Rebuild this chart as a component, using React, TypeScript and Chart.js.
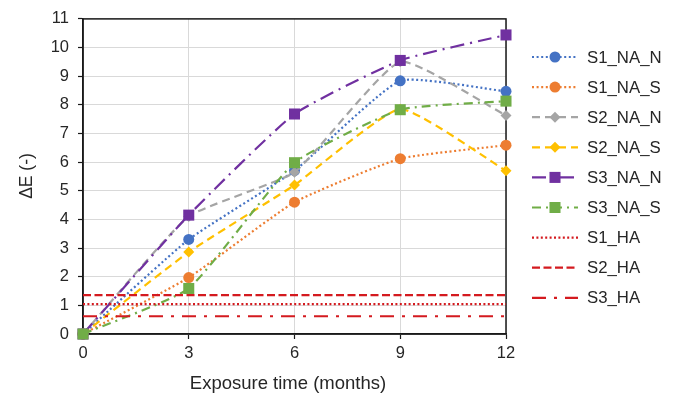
import React, { useEffect, useRef } from "react";
import { Chart, registerables } from "chart.js";

Chart.register(...registerables);

// Exposure time in months
const months = [0, 3, 6, 9, 12];

// Colour difference ΔE per sample series
const s1NaN = [0, 3.3, 5.7, 8.84, 8.47];
const s1NaS = [0, 1.97, 4.6, 6.12, 6.59];
const s2NaN = [0, 4.1, 5.65, 9.5, 7.63];
const s2NaS = [0, 2.86, 5.2, 7.85, 5.7];
const s3NaN = [0, 4.15, 7.68, 9.55, 10.44];
const s3NaS = [0, 1.59, 5.98, 7.83, 8.13];

// Reference levels (HA)
const s1Ha = 1.04;
const s2Ha = 1.36;
const s3Ha = 0.62;

const xTicks = [0, 3, 6, 9, 12];
const xTitle = "Exposure time (months)";
const yTitle = "ΔE (-)";

const FONT = "'Liberation Sans', Arial, sans-serif";
const TEXT = "#262626";
const RED = "#D41A1F";

type Series = {
  label: string;
  values: number[];
  color: string;
  dash: number[];
  marker: "circle" | "rect" | "rectRot" | null;
  radius: number;
};

const series: Series[] = [
  { label: "S1_NA_N", values: s1NaN, color: "#4472C4", dash: [2, 2.6], marker: "circle", radius: 5.5 },
  { label: "S1_NA_S", values: s1NaS, color: "#ED7D31", dash: [2, 2.6], marker: "circle", radius: 5.5 },
  { label: "S2_NA_N", values: s2NaN, color: "#A5A5A5", dash: [8, 5], marker: "rectRot", radius: 5.5 },
  { label: "S2_NA_S", values: s2NaS, color: "#FFC000", dash: [8, 5], marker: "rectRot", radius: 5.5 },
  { label: "S3_NA_N", values: s3NaN, color: "#7030A0", dash: [14, 6, 2, 6], marker: "rect", radius: 7.8 },
  { label: "S3_NA_S", values: s3NaS, color: "#70AD47", dash: [9, 5, 2, 5], marker: "rect", radius: 7.8 },
  { label: "S1_HA", values: [s1Ha, s1Ha], color: RED, dash: [2, 2.4], marker: null, radius: 0 },
  { label: "S2_HA", values: [s2Ha, s2Ha], color: RED, dash: [8, 3.5], marker: null, radius: 0 },
  { label: "S3_HA", values: [s3Ha, s3Ha], color: RED, dash: [14, 8, 3, 8], marker: null, radius: 0 },
];

function drawMarker(ctx: CanvasRenderingContext2D, s: Series, x: number, y: number) {
  if (!s.marker) return;
  ctx.save();
  ctx.setLineDash([]);
  ctx.fillStyle = s.color;
  ctx.beginPath();
  if (s.marker === "circle") {
    ctx.arc(x, y, s.radius, 0, Math.PI * 2);
  } else if (s.marker === "rect") {
    const h = s.radius * Math.SQRT1_2;
    ctx.rect(x - h, y - h, 2 * h, 2 * h);
  } else {
    const r = s.radius;
    ctx.moveTo(x - r, y);
    ctx.lineTo(x, y - r);
    ctx.lineTo(x + r, y);
    ctx.lineTo(x, y + r);
    ctx.closePath();
  }
  ctx.fill();
  ctx.restore();
}

const frame = {
  id: "plotFrame",
  beforeDatasetsDraw(chart: any) {
    const { ctx, chartArea: a } = chart;
    ctx.save();
    ctx.strokeStyle = "#1a1a1a";
    ctx.lineWidth = 1.5;
    ctx.strokeRect(a.left, a.top, a.right - a.left, a.bottom - a.top);
    ctx.restore();
  },
};

// Axis titles and the side legend
const annotations = {
  id: "annotations",
  afterDraw(chart: any) {
    const { ctx } = chart;
    ctx.save();
    ctx.fillStyle = TEXT;
    ctx.font = `18.5px ${FONT}`;
    ctx.textAlign = "center";
    ctx.textBaseline = "middle";
    ctx.fillText(xTitle, 288, 384);
    ctx.translate(27, 176);
    ctx.rotate(-Math.PI / 2);
    ctx.font = `17.5px ${FONT}`;
    ctx.fillText(yTitle, 0, 0);
    ctx.restore();

    const x0 = 532;
    const x1 = 578;
    const mx = 555;
    const tx = 587;
    const top = 57;
    const step = 30.1;
    series.forEach((s, i) => {
      const y = top + i * step;
      ctx.save();
      ctx.strokeStyle = s.color;
      ctx.lineWidth = 2.2;
      ctx.setLineDash(s.dash);
      ctx.beginPath();
      ctx.moveTo(x0, y);
      ctx.lineTo(x1, y);
      ctx.stroke();
      ctx.restore();
      drawMarker(ctx, s, mx, y);
      ctx.save();
      ctx.fillStyle = TEXT;
      ctx.font = `16.8px ${FONT}`;
      ctx.textAlign = "left";
      ctx.textBaseline = "middle";
      ctx.fillText(s.label, tx, y + 1);
      ctx.restore();
    });
  },
};

export default function App() {
  const ref = useRef<HTMLCanvasElement | null>(null);

  useEffect(() => {
    if (!ref.current) return;
    const n = series.length;
    const datasets = series.map((s, i) => {
      const xs = s.values.length === 2 ? [xTicks[0], xTicks[xTicks.length - 1]] : months;
      return {
        label: s.label,
        data: s.values.map((v, j) => ({ x: xs[j], y: v })),
        borderColor: s.color,
        backgroundColor: s.color,
        borderWidth: 2.2,
        borderDash: s.dash,
        borderCapStyle: "butt" as const,
        tension: s.marker ? 0.15 : 0,
        pointStyle: s.marker || "circle",
        pointRadius: s.marker ? s.radius : 0,
        pointHoverRadius: s.marker ? s.radius : 0,
        pointBorderWidth: 0,
        clip: false as const,
        order: n - i,
      };
    });

    const chart = new Chart(ref.current, {
      type: "line",
      data: { datasets },
      options: {
        animation: false,
        responsive: true,
        maintainAspectRatio: false,
        layout: { padding: { top: 16, right: 175, left: 0, bottom: 0 } },
        plugins: {
          legend: { display: false },
          tooltip: { enabled: false },
        },
        scales: {
          x: {
            type: "linear",
            min: 0,
            max: 12,
            afterFit: (scale: any) => {
              scale.height = 65;
            },
            afterBuildTicks: (scale: any) => {
              scale.ticks = xTicks.map((v) => ({ value: v }));
            },
            ticks: {
              color: TEXT,
              font: { family: FONT, size: 16.5 },
              padding: 5,
              maxRotation: 0,
            },
            grid: { color: "#D9D9D9", lineWidth: 1, tickLength: 5, tickColor: "#1a1a1a", tickWidth: 1.2 },
            border: { color: "#1a1a1a", width: 1.5 },
          },
          y: {
            type: "linear",
            min: 0,
            max: 11,
            afterFit: (scale: any) => {
              scale.width = 83;
            },
            ticks: {
              stepSize: 1,
              color: TEXT,
              font: { family: FONT, size: 16.5 },
              padding: 9,
            },
            grid: { color: "#D9D9D9", lineWidth: 1, tickLength: 5, tickColor: "#1a1a1a", tickWidth: 1.2 },
            border: { color: "#1a1a1a", width: 1.5 },
          },
        },
      },
      plugins: [frame, annotations],
    });

    return () => chart.destroy();
  }, []);

  return (
    <div style={{ position: "absolute", left: 0, top: 0, width: 681, height: 399, background: "#fff" }}>
      <canvas ref={ref} />
    </div>
  );
}
